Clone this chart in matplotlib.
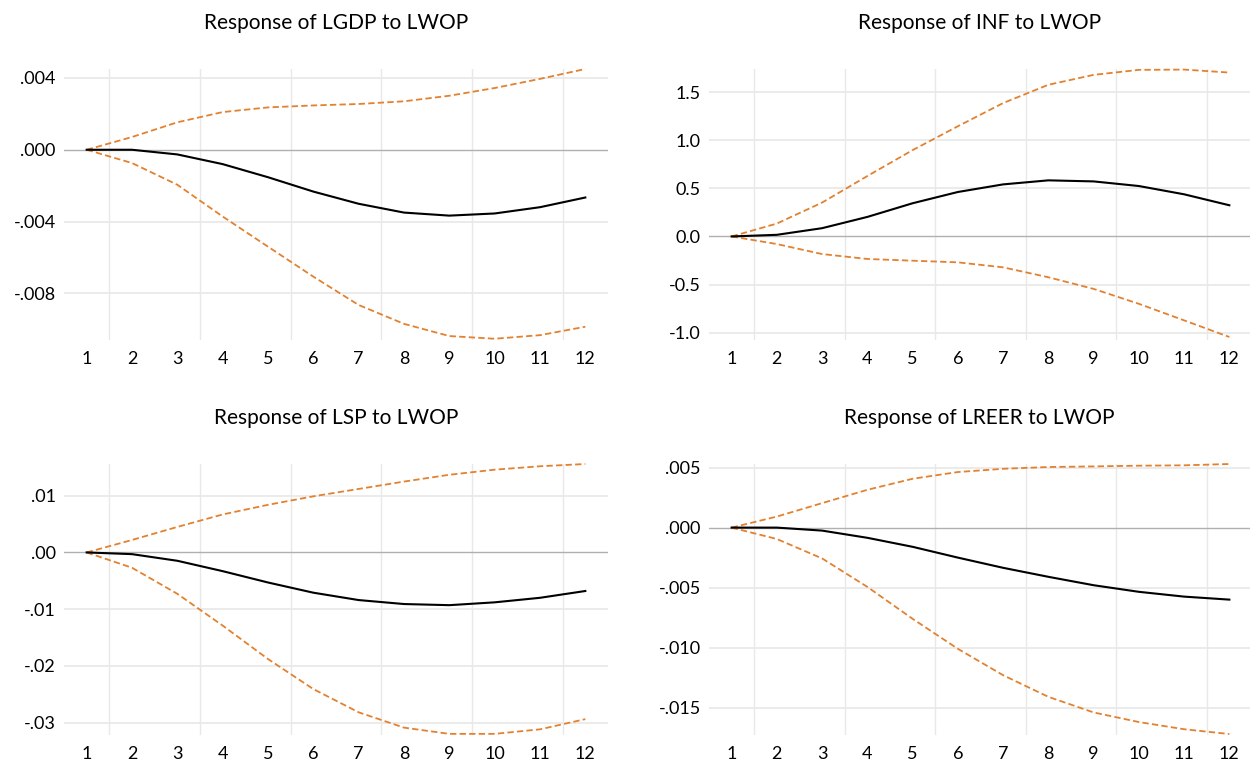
import matplotlib
matplotlib.use("Agg")
import matplotlib.pyplot as plt
from matplotlib.ticker import FuncFormatter

plt.rcParams['font.family'] = ['Lato', 'DejaVu Sans']

periods = list(range(1, 13))

titles = ['Response of LGDP to LWOP', 'Response of INF to LWOP',
          'Response of LSP to LWOP', 'Response of LREER to LWOP']

lgdp_resp = [0, 0.0, -0.00026, -0.0008, -0.00153, -0.00233, -0.00301, -0.0035, -0.00367, -0.00355, -0.0032, -0.00266]
lgdp_upper = [0, 0.00071, 0.00153, 0.0021, 0.00236, 0.00247, 0.00255, 0.0027, 0.00301, 0.00344, 0.00395, 0.0045]
lgdp_lower = [0, -0.00074, -0.00195, -0.00372, -0.0054, -0.00707, -0.00865, -0.0097, -0.01038, -0.01053, -0.01033, -0.00986]

inf_resp = [0, 0.017, 0.086, 0.203, 0.345, 0.462, 0.541, 0.583, 0.572, 0.524, 0.438, 0.324]
inf_upper = [0, 0.134, 0.352, 0.628, 0.897, 1.145, 1.386, 1.576, 1.679, 1.731, 1.734, 1.703]
inf_lower = [0, -0.079, -0.183, -0.234, -0.252, -0.269, -0.321, -0.424, -0.545, -0.70, -0.872, -1.045]

lsp_resp = [0, -0.0003, -0.00147, -0.0033, -0.0053, -0.0071, -0.0084, -0.0091, -0.0093, -0.0088, -0.008, -0.0068]
lsp_upper = [0, 0.0022, 0.0045, 0.0067, 0.0084, 0.0099, 0.0112, 0.0125, 0.0137, 0.0146, 0.0152, 0.0156]
lsp_lower = [0, -0.0027, -0.0073, -0.0129, -0.0188, -0.0241, -0.0282, -0.0309, -0.032, -0.032, -0.0312, -0.0294]

lreer_resp = [0, 0.0, -0.00025, -0.00085, -0.0016, -0.0025, -0.00335, -0.0041, -0.0048, -0.00535, -0.00575, -0.006]
lreer_upper = [0, 0.00092, 0.00204, 0.00315, 0.00407, 0.00463, 0.0049, 0.00505, 0.0051, 0.00516, 0.00519, 0.0053]
lreer_lower = [0, -0.00095, -0.00257, -0.00494, -0.0076, -0.0101, -0.0123, -0.0141, -0.0154, -0.0162, -0.0168, -0.0172]

yticks = [[0.004, 0.0, -0.004, -0.008],
          [1.5, 1.0, 0.5, 0.0, -0.5, -1.0],
          [0.01, 0.0, -0.01, -0.02, -0.03],
          [0.005, 0.0, -0.005, -0.010, -0.015]]
decimals = [3, 1, 2, 3]
ylims = [(-0.0106, 0.0045), (-1.076, 1.74), (-0.0322, 0.0156), (-0.01728, 0.0053)]

panels = [(lgdp_resp, lgdp_upper, lgdp_lower),
          (inf_resp, inf_upper, inf_lower),
          (lsp_resp, lsp_upper, lsp_lower),
          (lreer_resp, lreer_upper, lreer_lower)]

W, H = 1250, 763
# axes boxes in pixels: left, top, right, bottom, and x range
boxes = [(64, 69, 608, 340, 12.5), (709, 69, 1250, 340, 12.456),
         (64, 464, 608, 735, 12.5), (709, 464, 1250, 735, 12.456)]

orange = '#E3812F'


def fmt(dec):
    def f(v, pos):
        s = f'{v:.{dec}f}'
        if dec > 1:
            s = s.replace('0.', '.', 1)
        if s.startswith('-') and float(s) == 0:
            s = s[1:]
        return s
    return f


fig = plt.figure(figsize=(W / 100, H / 100), dpi=100)

for i, (resp, up, lo) in enumerate(panels):
    l, t, r, b, xr = boxes[i]
    ax = fig.add_axes([l / W, 1 - b / H, (r - l) / W, (b - t) / H])
    for s in ax.spines.values():
        s.set_visible(False)
    ax.set_xlim(0.5, xr)
    ax.set_ylim(*ylims[i])
    for gx in [1.5, 3.5, 5.5, 7.5, 9.5, 11.5]:
        ax.axvline(gx, color='#E8E8E8', lw=1, zorder=0)
    for gy in yticks[i]:
        if gy != 0:
            ax.axhline(gy, color='#E8E8E8', lw=1.2, zorder=0)
    ax.axhline(0, color='#B0B0B0', lw=1, zorder=1)
    ax.plot(periods, up, color=orange, lw=1.3, ls=(0, (3.5, 1.8)), zorder=2, clip_on=False)
    ax.plot(periods, lo, color=orange, lw=1.3, ls=(0, (3.5, 1.8)), zorder=2, clip_on=False)
    ax.plot(periods, resp, color='black', lw=1.5, zorder=3)
    ax.set_xticks(periods)
    ax.set_yticks(yticks[i])
    ax.yaxis.set_major_formatter(FuncFormatter(fmt(decimals[i])))
    ax.tick_params(length=0, labelsize=13, colors='black')
    ax.tick_params(axis='x', pad=8)
    ax.tick_params(axis='y', pad=6)
    ax.set_title(titles[i], fontsize=15, pad=29)

fig.savefig('out.png', dpi=100)
